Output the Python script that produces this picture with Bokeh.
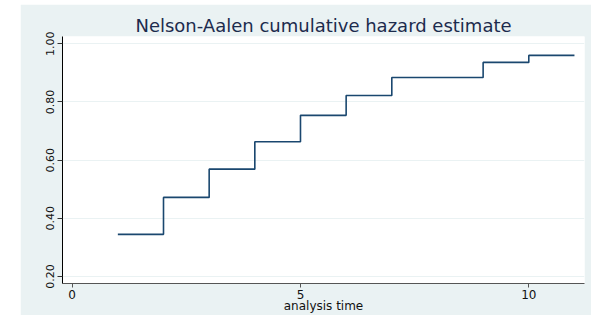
from bokeh.plotting import figure
from bokeh.models import Range1d, FixedTicker, NumeralTickFormatter, Title, Spacer
from bokeh.layouts import column, row
from bokeh.embed import file_html
from bokeh.resources import INLINE

# Data
analysis_time = [1, 2, 3, 4, 5, 6, 7, 8, 9, 10, 11]
cum_hazard = [0.345, 0.472, 0.569, 0.663, 0.754, 0.822, 0.884, 0.884, 0.936, 0.960, 0.960]
x_ticks = [0, 5, 10]
y_ticks = [0.20, 0.40, 0.60, 0.80, 1.00]

BG = "#EAF2F3"
FONT = "DejaVu Sans"

p = figure(width=571, height=311, output_backend="svg", toolbar_location=None,
           x_range=Range1d(-0.212, 11.22), y_range=Range1d(0.176, 1.025),
           background_fill_color="white", border_fill_color=BG,
           min_border_left=42, min_border_right=7, min_border_top=32, min_border_bottom=30)
p.outline_line_color = None

p.title = Title(text="Nelson-Aalen cumulative hazard estimate", align="center",
                text_font=FONT, text_font_size="18px", text_font_style="normal",
                text_color="#1C2B4D", standoff=1)

p.step(analysis_time, cum_hazard, mode="after", line_color="#1A476F", line_width=1.6)

# x axis
xa = p.xaxis[0]
xa.ticker = FixedTicker(ticks=x_ticks)
xa.axis_label = "analysis time"
xa.axis_label_text_font = FONT
xa.axis_label_text_font_size = "12px"
xa.axis_label_text_font_style = "normal"
xa.axis_label_text_color = "#111111"
xa.axis_label_standoff = -3
xa.major_label_text_font = FONT
xa.major_label_text_font_size = "12px"
xa.major_label_text_color = "#111111"
xa.major_label_standoff = 2
xa.axis_line_color = "#555555"
xa.major_tick_line_color = "#555555"
xa.major_tick_in = 0
xa.major_tick_out = 4
xa.minor_tick_line_color = None

# y axis
ya = p.yaxis[0]
ya.ticker = FixedTicker(ticks=y_ticks)
ya.formatter = NumeralTickFormatter(format="0.00")
ya.major_label_orientation = "vertical"
ya.major_label_text_font = FONT
ya.major_label_text_font_size = "11px"
ya.major_label_text_color = "#111111"
ya.major_label_standoff = 3
ya.axis_line_color = "black"
ya.major_tick_line_color = "#333333"
ya.major_tick_in = 0
ya.major_tick_out = 5
ya.minor_tick_line_color = None

p.xgrid.grid_line_color = None
p.ygrid.grid_line_color = BG
p.ygrid.grid_line_width = 1

layout = column(Spacer(width=591, height=4),
                row(Spacer(width=20, height=311), p))

open("out.html", "w").write(file_html(layout, INLINE))
